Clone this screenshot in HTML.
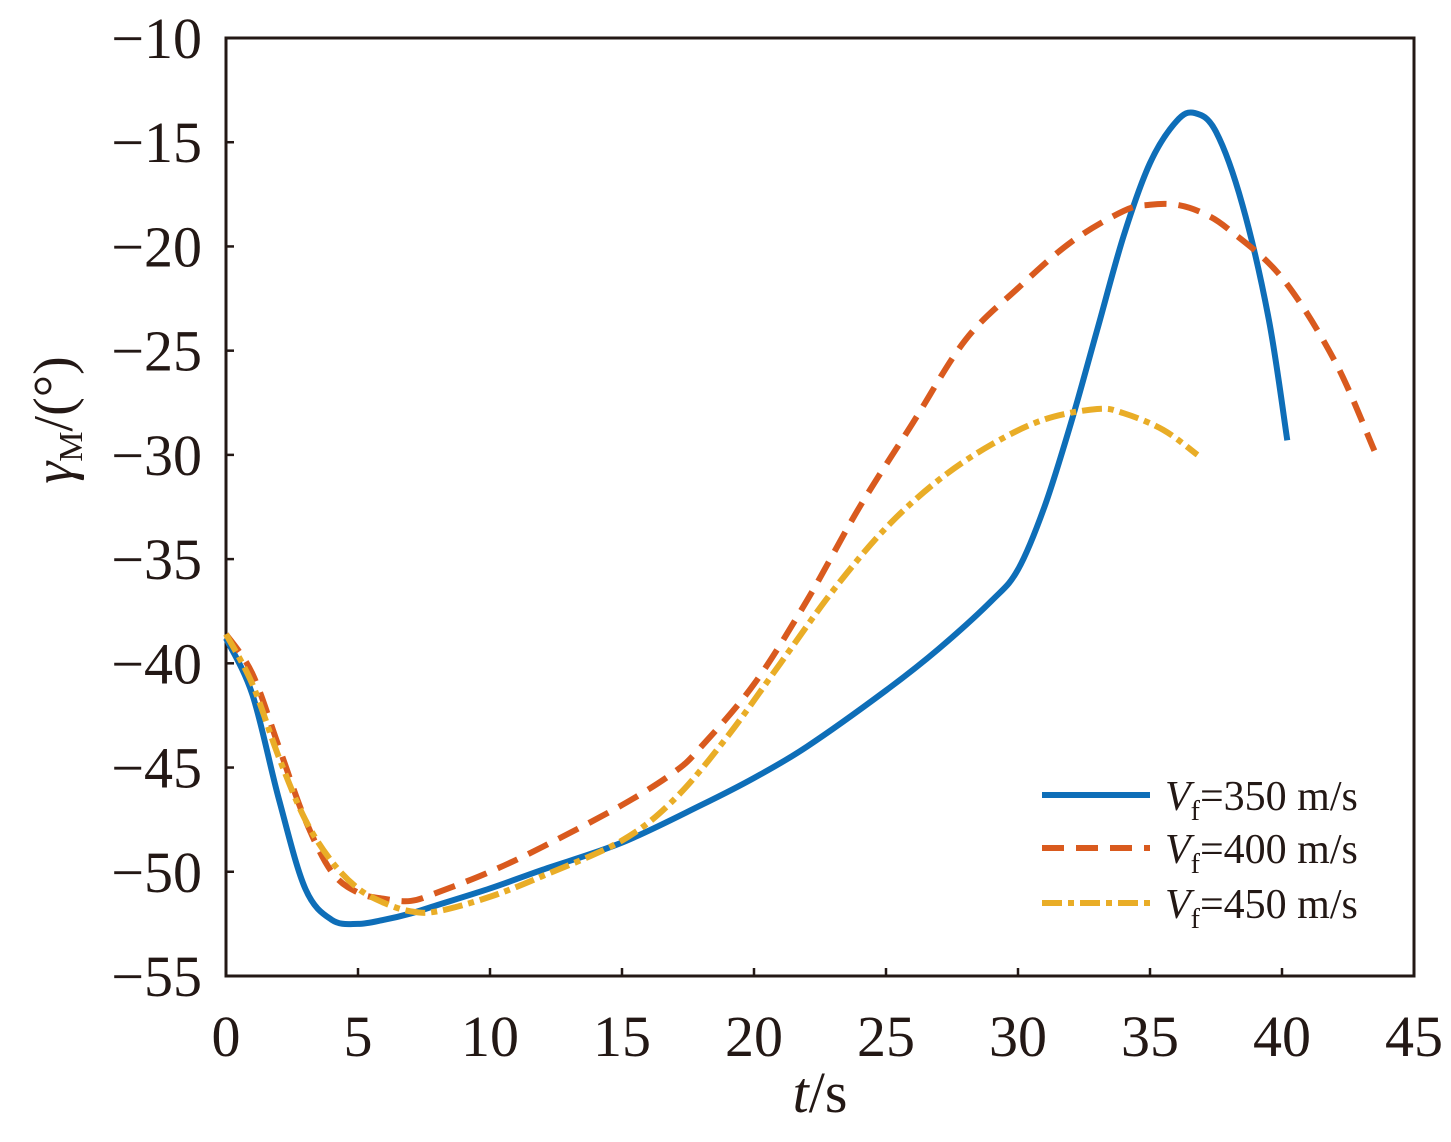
<!DOCTYPE html>
<html><head><meta charset="utf-8"><style>
html,body{margin:0;padding:0;background:#fff;}
svg{display:block;font-family:"Liberation Serif",serif;}
</style></head><body>
<svg id="s" width="1451" height="1142" viewBox="0 0 1451 1142" xmlns="http://www.w3.org/2000/svg">
<rect x="226" y="38" width="1188" height="938" fill="none" stroke="#231815" stroke-width="3"/>
<g id="ticks" stroke="#231815" stroke-width="2.5"></g>
<g id="lab" fill="#231815" font-size="58"></g>
<g id="curves" fill="none" stroke-width="6"></g>
<text x="820" y="1112" font-size="58" text-anchor="middle" fill="#231815"><tspan font-style="italic">t</tspan>/s</text>
<text transform="translate(72,420) rotate(-90)" font-size="56" text-anchor="middle" fill="#231815"><tspan font-style="italic">γ</tspan><tspan font-size="34" dy="10">M</tspan><tspan dy="-10">/(°)</tspan></text>
<g font-size="42" fill="#231815">
<line x1="1042" y1="795" x2="1150" y2="795" stroke="#0e6eb8" stroke-width="6"/>
<text x="1165" y="810"><tspan font-style="italic">V</tspan><tspan font-size="28" dy="10">f</tspan><tspan dy="-10">=350 m/s</tspan></text>
<line x1="1042" y1="848" x2="1150" y2="848" stroke="#d95a1e" stroke-width="6" stroke-dasharray="22,12"/>
<text x="1165" y="863"><tspan font-style="italic">V</tspan><tspan font-size="28" dy="10">f</tspan><tspan dy="-10">=400 m/s</tspan></text>
<line x1="1042" y1="903" x2="1150" y2="903" stroke="#e9ad27" stroke-width="6" stroke-dasharray="20,6,6,6"/>
<text x="1165" y="918"><tspan font-style="italic">V</tspan><tspan font-size="28" dy="10">f</tspan><tspan dy="-10">=450 m/s</tspan></text>
</g>
</svg>
<script>
var NS="http://www.w3.org/2000/svg";
function X(t){return 226+t*26.4;}function Y(v){return 38+(-10-v)*20.844;}
var tk=document.getElementById('ticks'),lb=document.getElementById('lab');
function el(p,tag,a,txt){var e=document.createElementNS(NS,tag);for(var k in a)e.setAttribute(k,a[k]);if(txt)e.textContent=txt;p.appendChild(e);}
for(var t=0;t<=45;t+=5){el(tk,'line',{x1:X(t),x2:X(t),y1:976,y2:968});el(lb,'text',{x:X(t),y:1056,'text-anchor':'middle'},String(t));}
for(var v=-10;v>=-55;v-=5){el(tk,'line',{x1:226,x2:234,y1:Y(v),y2:Y(v)});el(lb,'text',{x:202,y:Y(v)+20,'text-anchor':'end'},'\u2212'+(-v));}
function path(pts){var p=pts.map(function(a){return [X(a[0]),Y(a[1])]});var d='M'+p[0][0]+','+p[0][1];
for(var i=0;i<p.length-1;i++){var p0=p[i-1]||p[i],p1=p[i],p2=p[i+1],p3=p[i+2]||p2;
d+=' C'+(p1[0]+(p2[0]-p0[0])/6)+','+(p1[1]+(p2[1]-p0[1])/6)+' '+(p2[0]-(p3[0]-p1[0])/6)+','+(p2[1]-(p3[1]-p1[1])/6)+' '+p2[0]+','+p2[1];}return d;}
var C=document.getElementById('curves');
var b=[[0,-38.8],[1,-41.5],[2,-46.5],[3,-50.8],[4,-52.3],[5,-52.5],[6,-52.3],[7,-52],[8,-51.6],[10,-50.8],[12,-49.9],[15,-48.6],[18,-46.8],[20,-45.5],[22,-44],[25,-41.3],[27,-39.3],[29,-37],[30,-35.5],[31,-32.5],[32,-28.5],[33,-24],[34,-19.5],[35,-16],[36,-14],[36.7,-13.6],[37.5,-14.5],[38.5,-18],[39.5,-23.5],[40.2,-29.3]];
var o=[[0,-38.6],[1,-40.5],[2,-44],[3,-47.5],[4,-50],[5,-51],[6,-51.3],[7,-51.4],[8,-51],[10,-50],[12,-48.8],[15,-46.8],[17,-45.2],[18,-44],[20,-41],[22,-37],[24,-32.5],[26,-28.5],[28,-24.5],[30,-22],[32,-19.8],[34,-18.3],[35,-18],[36,-18],[37,-18.4],[38,-19.2],[40,-21.5],[42,-25.5],[43.5,-29.8]];
var y=[[0,-38.6],[1,-41],[2,-44.5],[3,-47.5],[4,-49.5],[5,-50.8],[6,-51.5],[7,-51.9],[8,-51.9],[10,-51.2],[12,-50.2],[15,-48.5],[17,-46.5],[19,-43.5],[21,-40],[23,-36.5],[25,-33.5],[27,-31.2],[29,-29.5],[31,-28.3],[33,-27.8],[34,-28],[35.5,-28.8],[36.8,-30]];
el(C,'path',{d:path(b),stroke:'#0e6eb8'});
el(C,'path',{d:path(o),stroke:'#d95a1e','stroke-dasharray':'22,12'});
el(C,'path',{d:path(y),stroke:'#e9ad27','stroke-dasharray':'20,6,6,6'});
</script>
</body></html>
